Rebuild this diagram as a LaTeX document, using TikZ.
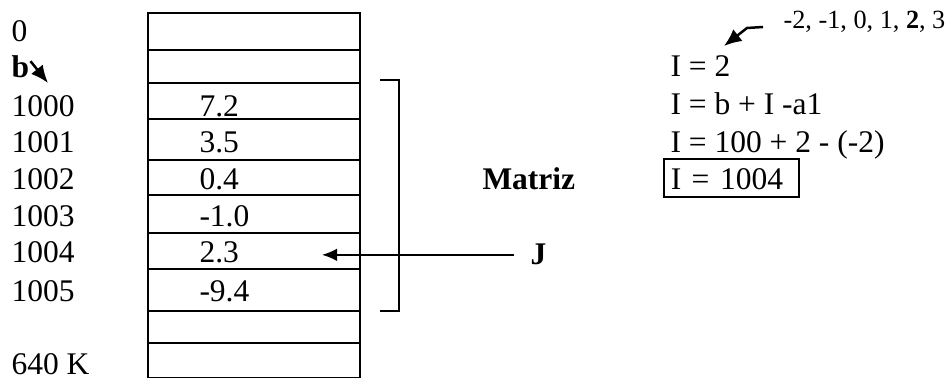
\documentclass[tikz,border=0pt]{standalone}
\usepackage{fontspec}
\setmainfont{Liberation Serif}
\usetikzlibrary{arrows.meta}
\usetikzlibrary{positioning}

\tikzset{
  lbl/.style={anchor=base west, inner sep=0pt, font=\fontsize{12.6}{14}\selectfont},
  small/.style={anchor=base west, inner sep=0pt, font=\fontsize{10.5}{12}\selectfont},
  eqbox/.style={lbl, draw, line width=0.6pt, inner xsep=2.8pt, inner ysep=0pt, align=left,
    text width=48.4pt, text height=12.4pt, text depth=2.8pt},
  ptr/.style={-{Latex[length=6pt, width=5pt]}, line width=0.6pt},
  fatptr/.style={-{Latex[length=7pt, width=6pt]}, line width=1pt},
}

\begin{document}
\begin{tikzpicture}[x=0.4pt, y=-0.4pt]
  \useasboundingbox (0,0) rectangle (950,378);
  % memory column
  \draw [line width=1pt] (148,13) rectangle (360,378);
  \foreach \y in {50,83,119,160,195,233,269,311,343}
    \draw [line width=1pt] (148,\y) -- (360,\y);
  % addresses and values
  \node [lbl] (a0) at (11,42) {0};
  \node [lbl] (ab) at (11,78) {\textbf{b}};
  \foreach \addr/\val/\y in {1000/7.2/117, 1001/3.5/153, 1002/0.4/190,
                             1003/-1.0/227, 1004/2.3/263, 1005/-9.4/302} {
    \node [lbl] (a\addr) at (11,\y) {\addr};
    \node [lbl] (v\addr) at (199,\y) {\val};
  }
  \node [lbl] (aend) at (11,374) {640 K};
  \coordinate (bTip) at (48,83);
  \draw [fatptr] ([xshift=0.4pt, yshift=2.4pt]ab.east) -- (bTip);
  % bracket round the matrix
  \draw [line width=0.8pt] (380,80) -- (399,80) -- (399,311) -- (380,311);
  \node [lbl, font=\fontsize{12.6}{14}\selectfont\bfseries] (matriz) at (482,190) {Matriz};
  \node [lbl, font=\fontsize{12.6}{14}\selectfont\bfseries] (J) at (530,265) {J};
  \coordinate (jTip) at (322,253);
  \draw [ptr] ([xshift=-6.4pt]J.west) -- (jTip |- J.west);
  % index computation
  \node [small] (seq) at (783,29) {-2, -1, 0, 1, \textbf{2}, 3};
  \node [lbl] (eq1) at (670,77) {I = 2};
  \node [lbl] (eq2) at (670,115) {I = b + I -a1};
  \node [lbl] (eq3) at (670,153) {I = 100 + 2 - (-2)};
  \node [eqbox] (eq4) at (663,190) {I = 1004};
  \coordinate (seqBend) at (747,28);
  \coordinate (eqTip) at (724,46);
  \draw [fatptr] ([xshift=-8pt, yshift=0.8pt]seq.base west) -- (seqBend) -- (eqTip);
\end{tikzpicture}
\end{document}
